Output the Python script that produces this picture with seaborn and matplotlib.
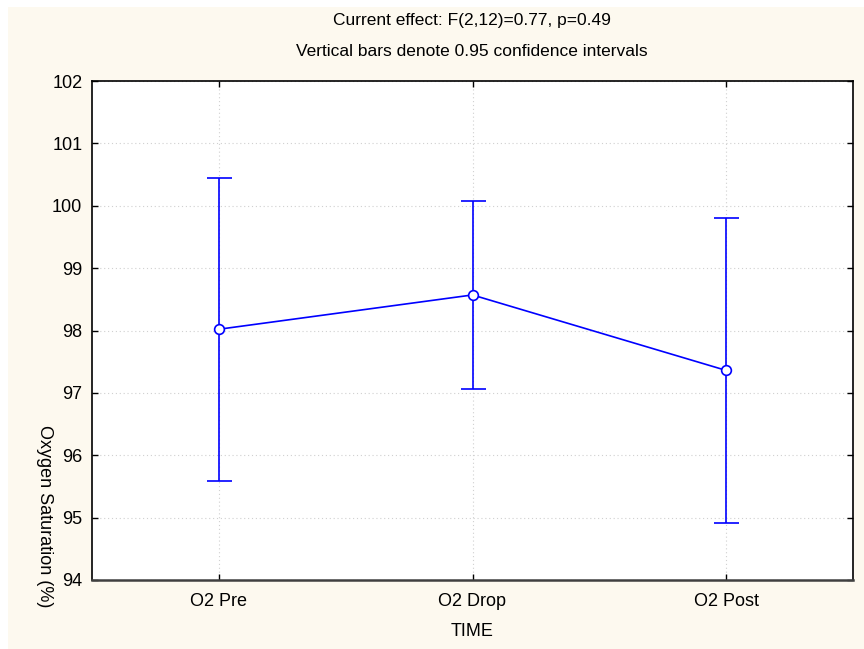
import matplotlib
matplotlib.use("Agg")
import matplotlib.pyplot as plt
from matplotlib.patches import Rectangle
import seaborn as sns
import pandas as pd
import numpy as np

categories = ["O2 Pre", "O2 Drop", "O2 Post"]
means = [98.02, 98.57, 97.36]
ci_upper = [100.45, 100.08, 99.80]
ci_lower = [95.59, 97.06, 94.92]
yticks = [94, 95, 96, 97, 98, 99, 100, 101, 102]

sns.set_theme(style="white")
plt.rcParams["font.family"] = ["Liberation Sans", "DejaVu Sans"]

W, H = 864, 649
fig = plt.figure(figsize=(W / 100, H / 100), dpi=100)
fig.patch.set_facecolor("white")
bg = Rectangle((8 / W, 0), (W - 8) / W, (H - 7) / H,
               transform=fig.transFigure, facecolor="#FDF9EF",
               edgecolor="none", zorder=-10)
fig.add_artist(bg)

ax = fig.add_axes([92 / W, (H - 580) / H, (853 - 92) / W, (580 - 81) / H])
ax.set_zorder(1)
ax.set_facecolor("white")

df = pd.DataFrame({"TIME": categories, "val": means})
x = np.arange(len(categories))
lo = np.array(means) - np.array(ci_lower)
hi = np.array(ci_upper) - np.array(means)
ax.errorbar(x, means, yerr=[lo, hi], fmt="none", ecolor="#0000FF",
            elinewidth=1.2, capsize=9, capthick=1.2, zorder=3)
sns.pointplot(data=df, x="TIME", y="val", color="#0000FF", errorbar=None,
              markers="o", linestyles="-", ax=ax, zorder=4,
              markersize=0, linewidth=1.2)
ax.plot(x, means, linestyle="none", marker="o", markersize=7,
        markerfacecolor="white", markeredgecolor="#0000FF",
        markeredgewidth=1.2, zorder=5)

ax.set_xlim(-0.5, 2.5)
ax.set_ylim(94, 102)
ax.set_yticks(yticks)
ax.set_yticklabels([str(t) for t in yticks])
ax.set_xticks(x)
ax.set_xticklabels(categories)
ax.grid(True, linestyle=(0, (1, 2.5)), color="#D0D0D0", linewidth=0.8)
ax.set_axisbelow(True)
ax.tick_params(axis="both", direction="in", length=4, width=1, colors="black",
               labelsize=13, labelcolor="black", pad=7,
               left=True, right=True, bottom=True, top=True)
ax.tick_params(axis="x", pad=9)
for s in ax.spines.values():
    s.set_visible(True)
    s.set_color("black")
    s.set_linewidth(1.2)
ax.spines["bottom"].set_color("#404040")
ax.spines["bottom"].set_linewidth(1.8)

ax.set_xlabel("")
ax.set_ylabel("")

fig.text(472 / W, 1 - 20 / H, "Current effect: F(2,12)=0.77, p=0.49",
         ha="center", va="center", fontsize=12.5, color="black")
fig.text(472 / W, 1 - 52 / H, "Vertical bars denote 0.95 confidence intervals",
         ha="center", va="center", fontsize=12.5, color="black")
fig.text(472 / W, 1 - 632 / H, "TIME", ha="center", va="center",
         fontsize=13, color="black")
fig.text(44 / W, 1 - 516 / H, "Oxygen Saturation (%)", ha="center",
         va="center", rotation=270, fontsize=13, color="black")

fig.savefig("out.png", dpi=100, facecolor=fig.get_facecolor())
